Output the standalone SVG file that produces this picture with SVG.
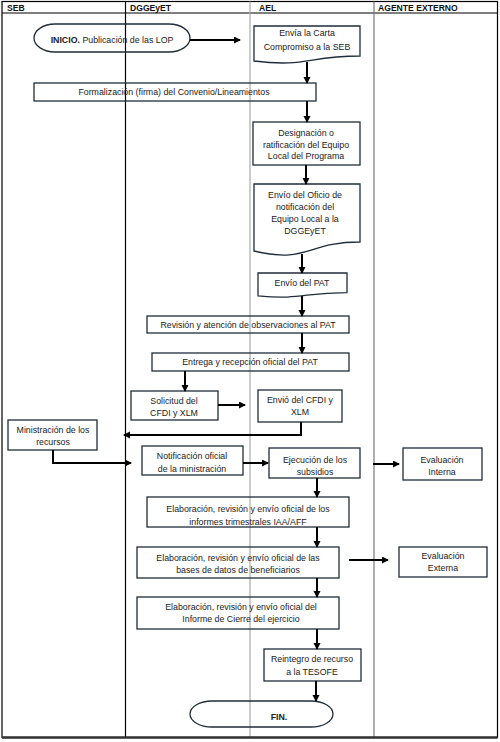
<svg xmlns="http://www.w3.org/2000/svg" width="500" height="742" viewBox="0 0 500 742">
<style>
.lane{stroke:#000;stroke-width:1.2;fill:none}
.hd{font-family:"Liberation Sans",Arial,sans-serif;font-size:8.6px;font-weight:bold;fill:#111}
.box{fill:none;stroke:#1f2d3a;stroke-width:1.3}
.t{font-family:"Liberation Sans",Arial,sans-serif;font-size:8.8px;fill:#222;text-anchor:middle}
.c{fill:none;stroke:#000;stroke-width:2}
</style>
<defs>
<marker id="ah" markerUnits="userSpaceOnUse" markerWidth="8" markerHeight="8" refX="6" refY="3.5" orient="auto">
<path d="M0,0 L7,3.5 L0,7 z" fill="#000"/>
</marker>
</defs>
<rect width="500" height="742" fill="#fff"/>
<g id="lanes">
<rect class="lane" x="2" y="1.5" width="495.5" height="736"/>
<line class="lane" x1="2" y1="13" x2="497.5" y2="13"/>
<line class="lane" x1="125.5" y1="1.5" x2="125.5" y2="737.5"/>
<line x1="250" y1="1.5" x2="250" y2="737.5" stroke="#aaa" stroke-width="1.2"/>
<line x1="374" y1="1.5" x2="374" y2="737.5" stroke="#777" stroke-width="1.2"/>
<line x1="2" y1="737.5" x2="497.5" y2="737.5" stroke="#333" stroke-width="2.4"/>
<text class="hd" x="7" y="10.5">SEB</text>
<text class="hd" x="130" y="10.5">DGGEyET</text>
<text class="hd" x="259" y="10.5">AEL</text>
<text class="hd" x="378" y="10.5">AGENTE EXTERNO</text>
</g>
<g id="n1">
<rect class="box" x="34" y="24" width="156" height="28" rx="21" ry="14"/>
<text class="t" x="112" y="43"><tspan font-weight="bold">INICIO.</tspan> Publicación de las LOP</text>
</g>
<g id="n2">
<path class="box" d="M254,26 H360 V56 C307,56 307,67.5 254,61 Z"/>
<text class="t" x="307" y="36">Envía la Carta</text>
<text class="t" x="307" y="50">Compromiso a la SEB</text>
</g>
<g id="n3">
<rect class="box" x="34" y="83" width="282" height="18"/>
<text class="t" x="174" y="95">Formalización (firma) del Convenio/Lineamientos</text>
</g>
<g id="n4">
<rect class="box" x="253" y="122" width="107" height="43"/>
<text class="t" x="306" y="136">Designación o</text>
<text class="t" x="306" y="147.5">ratificación del Equipo</text>
<text class="t" x="306" y="159">Local del Programa</text>
</g>
<g id="n5">
<path class="box" d="M254,184 H360 V242 C307,242 307,264 254,251 Z"/>
<text class="t" x="305" y="198">Envío del Oficio de</text>
<text class="t" x="305" y="210">notificación del</text>
<text class="t" x="305" y="221.5">Equipo Local a la</text>
<text class="t" x="305" y="234">DGGEyET</text>
</g>
<g id="n6">
<path class="box" d="M258,273 H347 V292.6 C302.5,292.6 302.5,300 258,295.9 Z"/>
<text class="t" x="302" y="286">Envío del PAT</text>
</g>
<g id="n7">
<rect class="box" x="147" y="316" width="202" height="17"/>
<text class="t" x="248" y="327.5">Revisión y atención de observaciones al PAT</text>
</g>
<g id="n8">
<rect class="box" x="152" y="353" width="197" height="18"/>
<text class="t" x="250" y="365">Entrega y recepción oficial del PAT</text>
</g>
<g id="n9">
<rect class="box" x="131" y="391" width="87" height="29"/>
<text class="t" x="174" y="404">Solicitud del</text>
<text class="t" x="174" y="416">CFDI y XLM</text>
</g>
<g id="n10">
<rect class="box" x="258" y="390" width="84" height="32"/>
<text class="t" x="300" y="403">Envió del CFDI y</text>
<text class="t" x="300" y="415">XLM</text>
</g>
<g id="n11">
<rect class="box" x="8" y="420" width="89" height="30"/>
<text class="t" x="53" y="433">Ministración de los</text>
<text class="t" x="53" y="445">recursos</text>
</g>
<g id="n12">
<rect class="box" x="142" y="446" width="101" height="29"/>
<text class="t" x="192" y="459">Notificación oficial</text>
<text class="t" x="192" y="472">de la ministración</text>
</g>
<g id="n13">
<rect class="box" x="269" y="448" width="91" height="30"/>
<text class="t" x="315" y="463">Ejecución de los</text>
<text class="t" x="315" y="474.5">subsidios</text>
</g>
<g id="n14">
<rect class="box" x="403" y="448" width="79" height="32"/>
<text class="t" x="442" y="463">Evaluación</text>
<text class="t" x="442" y="474.5">Interna</text>
</g>
<g id="n15">
<rect class="box" x="147" y="497" width="202" height="30"/>
<text class="t" x="248" y="512">Elaboración, revisión y envío oficial de los</text>
<text class="t" x="248" y="525">informes trimestrales IAA/AFF</text>
</g>
<g id="n16">
<rect class="box" x="137" y="547" width="202" height="31"/>
<text class="t" x="238" y="561">Elaboración, revisión y envío oficial de las</text>
<text class="t" x="238" y="573">bases de datos de beneficiarios</text>
</g>
<g id="n17">
<rect class="box" x="399" y="547" width="88" height="30"/>
<text class="t" x="443" y="559">Evaluación</text>
<text class="t" x="443" y="571">Externa</text>
</g>
<g id="n18">
<rect class="box" x="137" y="597" width="202" height="32"/>
<text class="t" x="241" y="610">Elaboración, revisión y envío oficial del</text>
<text class="t" x="241" y="621.5">Informe de Cierre del ejercicio</text>
</g>
<g id="n19">
<rect class="box" x="264" y="649" width="97" height="32"/>
<text class="t" x="312" y="662">Reintegro de recurso</text>
<text class="t" x="312" y="675">a la TESOFE</text>
</g>
<g id="n20">
<rect class="box" x="190" y="701" width="143" height="26" rx="22" ry="13"/>
<text class="t" x="279" y="720" font-weight="bold">FIN.</text>
</g>
<g id="connectors">
<path class="c" d="M190,40 H240" marker-end="url(#ah)"/>
<path class="c" d="M307,62 V83" marker-end="url(#ah)"/>
<path class="c" d="M307,101 V122" marker-end="url(#ah)"/>
<path class="c" d="M306,165 V184" marker-end="url(#ah)"/>
<path class="c" d="M302,254 V273" marker-end="url(#ah)"/>
<path class="c" d="M302,296 V316" marker-end="url(#ah)"/>
<path class="c" d="M302,333 V353" marker-end="url(#ah)"/>
<path class="c" d="M185,371 V391" stroke-width="1.5" marker-end="url(#ah)"/>
<path class="c" d="M218,405 H245" marker-end="url(#ah)"/>
<path class="c" d="M301,422 V435 H124" marker-end="url(#ah)"/>
<path class="c" d="M53,450 V463 H131" marker-end="url(#ah)"/>
<path class="c" d="M243,463 H268" marker-end="url(#ah)"/>
<path class="c" d="M373,464 H399" marker-end="url(#ah)"/>
<path class="c" d="M317,478 V497" marker-end="url(#ah)"/>
<path class="c" d="M317,527 V547" marker-end="url(#ah)"/>
<path class="c" d="M349,560 H388" marker-end="url(#ah)"/>
<path class="c" d="M317,578 V597" marker-end="url(#ah)"/>
<path class="c" d="M317,629 V649" marker-end="url(#ah)"/>
<path class="c" d="M316,681 V701" marker-end="url(#ah)"/>
</g>
</svg>
